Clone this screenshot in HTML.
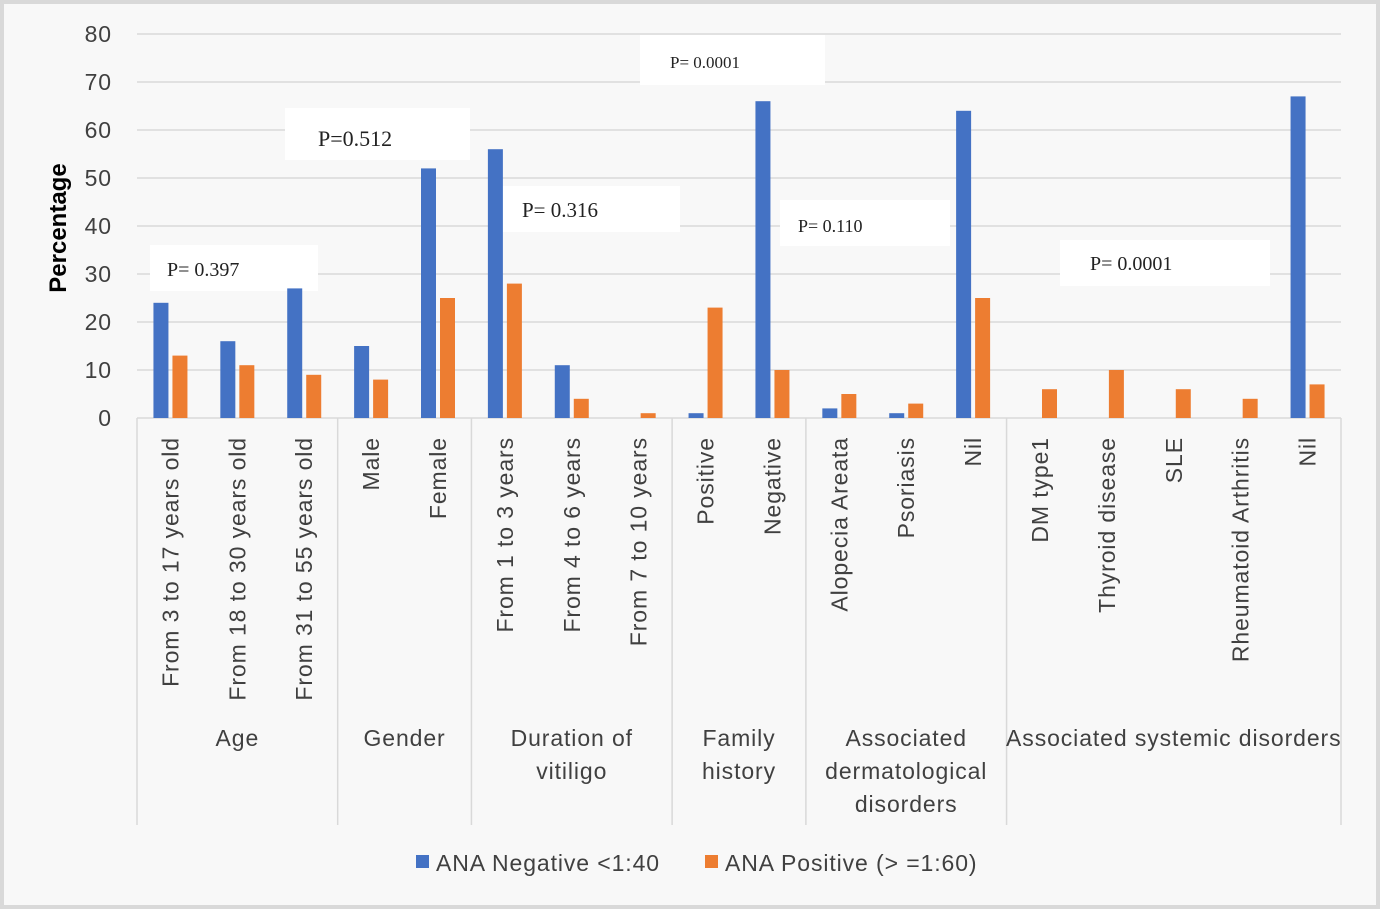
<!DOCTYPE html>
<html><head><meta charset="utf-8"><style>
html,body{margin:0;padding:0;background:#fff}
svg{display:block}
text{font-family:"Liberation Sans",sans-serif;fill:#404040}
.w{letter-spacing:0.9px}
.p{font-family:"Liberation Serif",serif;fill:#222}
</style></head><body>
<svg id="chart" width="1380" height="909" viewBox="0 0 1380 909" xmlns="http://www.w3.org/2000/svg">
<rect x="0" y="0" width="1380" height="909" fill="#d9d9d9"/>
<rect x="4" y="4" width="1372" height="901" fill="#f8f8f8"/>
<g id="grid"></g>
<g id="ylabels"></g>
<text transform="translate(66,228) rotate(-90)" text-anchor="middle" font-size="24" font-weight="bold" style="fill:#000">Percentage</text>
<g id="pboxes"></g>
<g id="bars"></g>
<g id="xlabels"></g>
<g id="groups"></g>
<g>
<rect x="416" y="855" width="13" height="13" fill="#4472c4"/>
<text x="436" y="871" font-size="23" class="w">ANA Negative &lt;1:40</text>
<rect x="705" y="855" width="13" height="13" fill="#ed7d31"/>
<text x="725" y="871" font-size="23" class="w">ANA Positive (&gt; =1:60)</text>
</g>
</svg>
<script>
const categories=["From 3 to 17 years old","From 18 to 30 years old","From 31 to 55 years old","Male","Female","From 1 to 3 years","From 4 to 6 years","From 7 to 10 years","Positive","Negative","Alopecia Areata","Psoriasis","Nil","DM type1","Thyroid disease","SLE","Rheumatoid Arthritis","Nil"];
const negValues=[24,16,27,15,52,56,11,0,1,66,2,1,64,0,0,0,0,67];
const posValues=[13,11,9,8,25,28,4,1,23,10,5,3,25,6,10,6,4,7];
const yTicks=[0,10,20,30,40,50,60,70,80];
const groupNames=[["Age"],["Gender"],["Duration of","vitiligo"],["Family","history"],["Associated","dermatological","disorders"],["Associated systemic disorders"]];
const groupSizes=[3,2,3,2,3,5];
const pLabels=["P= 0.397","P=0.512","P= 0.316","P= 0.0001","P= 0.110","P= 0.0001"];

const NS="http://www.w3.org/2000/svg";
const X0=137,X1=1341,Y0=418,PX=4.8;
const cw=(X1-X0)/categories.length;
const y=v=>Y0-v*PX;
const xc=i=>X0+cw*(i+0.5);
function mk(tag,attrs,parent,txt){const e=document.createElementNS(NS,tag);for(const k in attrs)e.setAttribute(k,attrs[k]);if(txt!==undefined)e.textContent=txt;document.getElementById(parent).appendChild(e);return e;}

yTicks.forEach(t=>{
  const l=mk('line',{x1:X0,x2:X1,y1:y(t),y2:y(t),stroke:'#d9d9d9','stroke-width':1.5},'grid');
  
  
  const tx=mk('text',{x:112,y:y(t)+8,'text-anchor':'end','font-size':23,class:'w'},'ylabels',t);
  
  
});

const pBoxes=[[150,245,168,46,167,276,20],[285,108,185,52,318,146,22],[500,186,180,46,522,217,21],[640,35,185,50,670,68,17],[780,200,170,46,798,232,18],[1060,240,210,46,1090,270,20]];
pBoxes.forEach((b,i)=>{
  const r=mk('rect',{x:b[0],y:b[1],width:b[2],height:b[3],fill:'#fff'},'pboxes');
  
  
  const t=mk('text',{x:b[4],y:b[5],'font-size':b[6],class:'p'},'pboxes',pLabels[i]);
  
  
});

const bw=15;
categories.forEach((c,i)=>{
  const cx=xc(i);
  const b1=mk('rect',{x:cx-bw-2,y:y(negValues[i]),width:bw,height:negValues[i]*PX,fill:'#4472c4'},'bars');
  
  
  const b2=mk('rect',{x:cx+2,y:y(posValues[i]),width:bw,height:posValues[i]*PX,fill:'#ed7d31'},'bars');
  
  
  const t=mk('text',{transform:`translate(${cx+8},437) rotate(-90)`,'text-anchor':'end','font-size':23,class:'w'},'xlabels',c);
  
  
});

let start=0;
const d0=mk('line',{x1:X0,x2:X0,y1:Y0,y2:825,stroke:'#d9d9d9','stroke-width':1.5},'groups');


groupSizes.forEach((n,g)=>{
  const a=X0+cw*start,bnd=X0+cw*(start+n);
  const d=mk('line',{x1:bnd,x2:bnd,y1:Y0,y2:825,stroke:'#d9d9d9','stroke-width':1.5},'groups');
  
  
  groupNames[g].forEach((ln,k)=>{
    const t=mk('text',{x:(a+bnd)/2,y:746+k*33,'text-anchor':'middle','font-size':23,class:'w'},'groups',ln);
    
    
  });
  start+=n;
});
</script>
</body></html>
